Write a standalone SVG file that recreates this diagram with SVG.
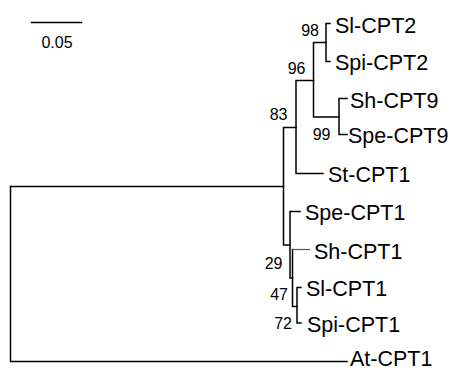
<svg xmlns="http://www.w3.org/2000/svg" width="456" height="371" viewBox="0 0 456 371">
<style>
.b{fill:none;stroke:#000;stroke-width:1.5;stroke-linecap:square;stroke-linejoin:miter}
.g{fill:none;stroke:#555;stroke-width:1.2}
.l{font-family:"Liberation Sans",Arial,sans-serif;font-size:21.5px;fill:#000}
.n{font-family:"Liberation Sans",Arial,sans-serif;font-size:16px;fill:#000;text-anchor:end}
</style>
<rect width="456" height="371" fill="#fff"/>
<g id="connectors">
<path class="b" d="M283.5,186.5 H10.5 V361.5 H347"/>
<path class="b" d="M296,127.5 H283.5 V245 H290"/>
<path class="b" d="M313.5,80.5 H296 V173.5 H323"/>
<path class="b" d="M326,42.5 H313.5 V117 H339"/>
<path class="b" d="M330,23.5 H326 V61.5 H330"/>
<path class="b" d="M347,98.5 H339 V134.5 H347"/>
<path class="b" d="M300,211.5 H290 V278 H292.5"/>
<path class="b" d="M292.5,249.5 V306.5 H297"/>
<path class="g" d="M292.5,249.5 H310"/>
<path class="b" d="M301,287.5 H297 V323 H301"/>
<path class="b" d="M31.5,22.5 H81.5"/>
</g>
<g id="scale"><text x="57" y="48" class="n" style="text-anchor:middle">0.05</text></g>
<g id="Sl-CPT2"><text x="335" y="32.5" class="l">Sl-CPT2</text></g>
<g id="Spi-CPT2"><text x="335" y="70" class="l">Spi-CPT2</text></g>
<g id="Sh-CPT9"><text x="350" y="107.5" class="l">Sh-CPT9</text></g>
<g id="Spe-CPT9"><text x="348" y="143" class="l">Spe-CPT9</text></g>
<g id="St-CPT1"><text x="328" y="182" class="l">St-CPT1</text></g>
<g id="Spe-CPT1"><text x="305" y="220" class="l">Spe-CPT1</text></g>
<g id="Sh-CPT1"><text x="314" y="258.5" class="l">Sh-CPT1</text></g>
<g id="Sl-CPT1"><text x="306" y="296" class="l">Sl-CPT1</text></g>
<g id="Spi-CPT1"><text x="307" y="331.5" class="l">Spi-CPT1</text></g>
<g id="At-CPT1"><text x="350" y="366" class="l">At-CPT1</text></g>
<g id="bs98"><text x="319" y="35.5" class="n">98</text></g>
<g id="bs96"><text x="305.5" y="73.5" class="n">96</text></g>
<g id="bs83"><text x="287.5" y="120" class="n">83</text></g>
<g id="bs99"><text x="330.5" y="139.5" class="n">99</text></g>
<g id="bs29"><text x="282.5" y="268.5" class="n">29</text></g>
<g id="bs47"><text x="288" y="300" class="n">47</text></g>
<g id="bs72"><text x="292" y="328.5" class="n">72</text></g>
</svg>
